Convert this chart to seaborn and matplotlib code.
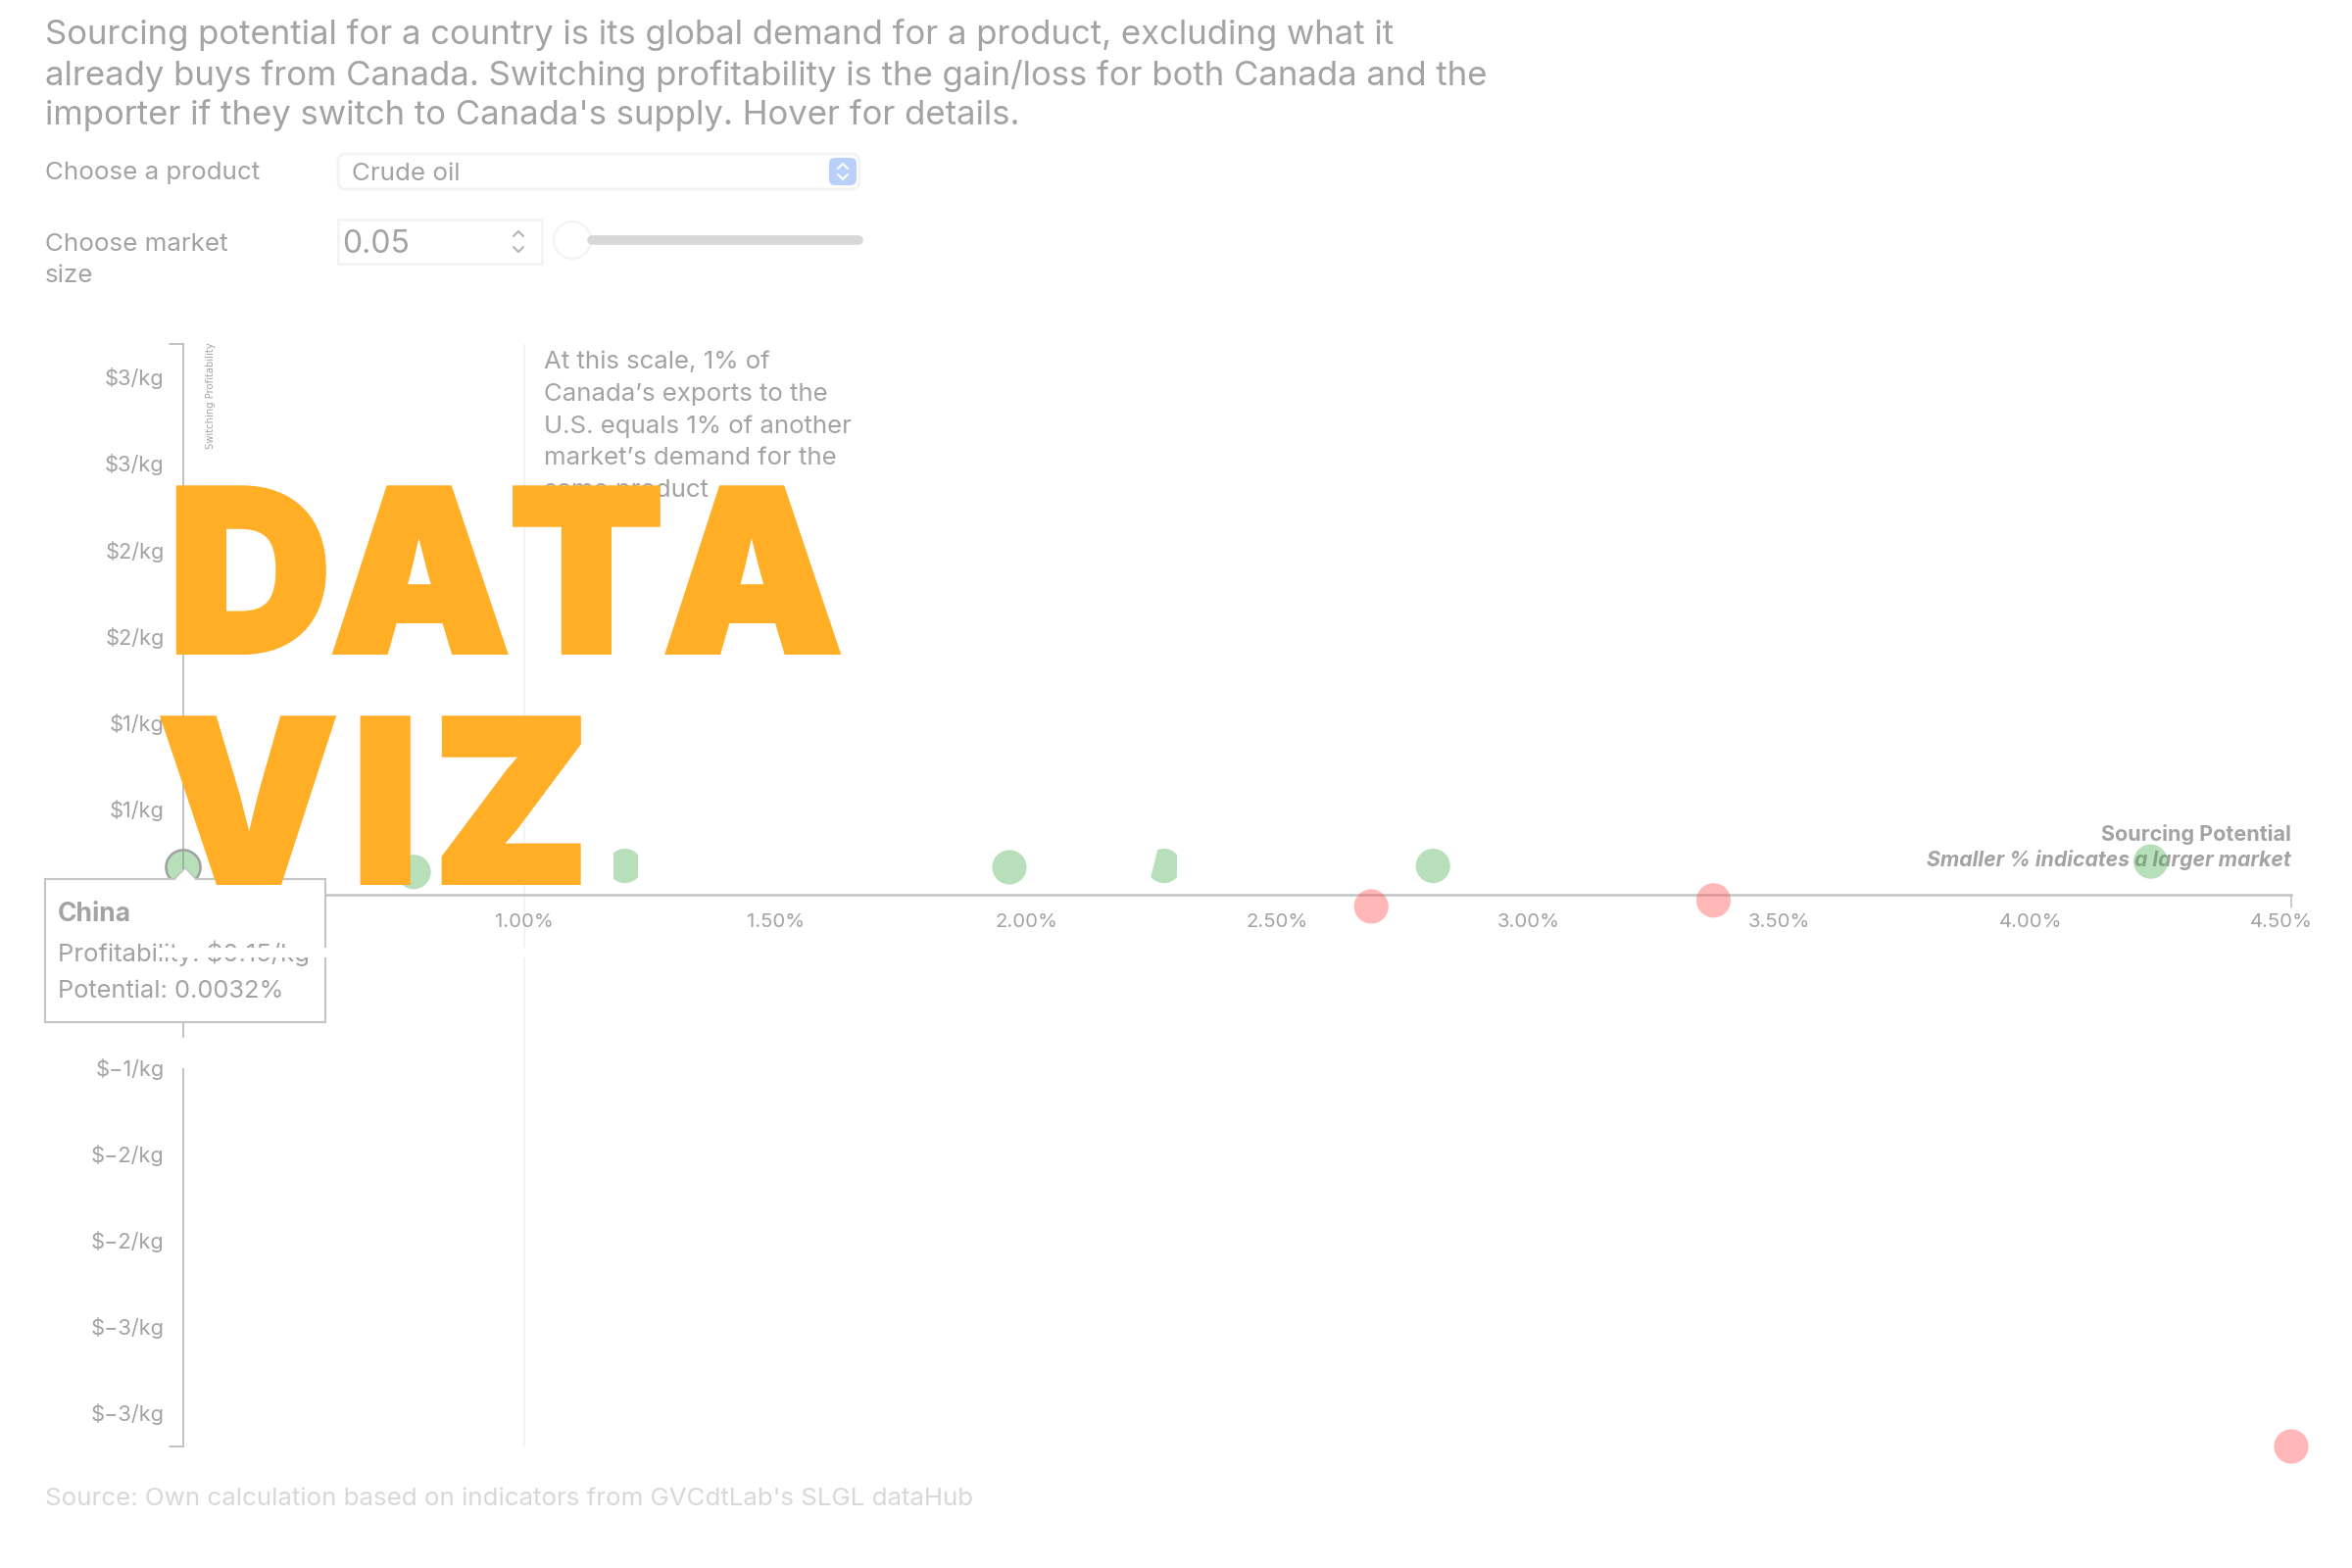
import matplotlib
matplotlib.use('Agg')
import matplotlib.pyplot as plt
import matplotlib.patheffects as pe
import pandas as pd
import seaborn as sns
from matplotlib.patches import Circle, FancyBboxPatch, Polygon, Rectangle

# values
potential = [0.32, 0.779, 1.20, 1.966, 2.274, 2.81, 4.24, 2.687, 3.369, 4.52]
profit = [0.157, 0.13, 0.165, 0.157, 0.165, 0.165, 0.19, -0.07, -0.035, -3.2]
side = ['gain', 'gain', 'gain', 'gain', 'gain', 'gain', 'gain', 'loss', 'loss', 'loss']

x_ticks = [0.5, 1.0, 1.5, 2.0, 2.5, 3.0, 3.5, 4.0, 4.5]
x_labels = ['0.50%', '1.00%', '1.50%', '2.00%', '2.50%', '3.00%', '3.50%', '4.00%', '4.50%']
y_ticks = [3, 2.5, 2, 1.5, 1, 0.5, -0.5, -1, -1.5, -2, -2.5, -3]
y_labels = ['$3/kg', '$3/kg', '$2/kg', '$2/kg', '$1/kg', '$1/kg', '$-1/kg', '$-1/kg',
            '$-2/kg', '$-2/kg', '$-3/kg', '$-3/kg']
y_labels = [s.replace('-', '\u2212') for s in y_labels]

intro = ["Sourcing potential for a country is its global demand for a product, excluding what it",
         "already buys from Canada. Switching profitability is the gain/loss for both Canada and the",
         "importer if they switch to Canada's supply. Hover for details."]
note = ["At this scale, 1% of", "Canada\u2019s exports to the", "U.S. equals 1% of another",
        "market\u2019s demand for the", "same product"]

df = pd.DataFrame({'potential': potential, 'profit': profit, 'side': side})

GRAY = '#a3a3a3'
LINE = '#c4c4c4'
ORANGE = '#ffae26'

sns.set_theme(style='white')
plt.rcParams['font.family'] = ['Inter', 'DejaVu Sans']

fig = plt.figure(figsize=(24, 16), dpi=100, facecolor='white')

# plot area in pixels: left 187, right 2338, top 351, bottom 1476
ax = fig.add_axes([187 / 2400, 1 - 1476 / 1600, (2338 - 187) / 2400, (1476 - 351) / 1600])
ax.axvline(1.0, color='#f3f3f3', lw=1.5, zorder=0)
ax.text(4.52, 0.35, 'Sourcing Potential', ha='right', va='center', fontsize=15.5,
        fontweight='bold', color=GRAY, zorder=1)
ax.text(4.52, 0.2, 'Smaller % indicates a larger market', ha='right', va='center', fontsize=15.3,
        fontweight='bold', fontstyle='italic', color=GRAY, zorder=1)
sns.scatterplot(data=df, x='potential', y='profit', hue='side', ax=ax, s=640, alpha=0.4, linewidth=0,
                palette={'gain': '#4caf50', 'loss': '#ff4d4d'}, legend=False, clip_on=False, zorder=3)
ax.scatter(potential[:1], profit[:1], s=640, facecolor='none', edgecolor='#a0a0a0', linewidth=1.8,
           clip_on=False, zorder=4)

ax.set_xlim(0.32, 4.52)
ax.set_ylim(-3.2, 3.19)
ax.set_xlabel('')
ax.set_ylabel('')
ax.set_xticks(x_ticks, x_labels)
ax.set_yticks(y_ticks, y_labels)
ax.tick_params(axis='x', length=0, pad=14, labelsize=14.6, labelcolor=GRAY)
ax.tick_params(axis='y', length=0, pad=14, labelsize=15.7, labelcolor=GRAY)
ax.patch.set_alpha(0)
for s in ['top', 'right']:
    ax.spines[s].set_visible(False)
ax.spines['left'].set_color('#b8b8b8')
ax.spines['left'].set_linewidth(1.2)
ax.spines['bottom'].set_position(('data', 0))
ax.spines['bottom'].set_color(LINE)
ax.spines['bottom'].set_linewidth(1.8)

# everything else sits on a full figure layer in pixels
ov = fig.add_axes([0, 0, 1, 1], zorder=5)
ov.set_xlim(0, 2400)
ov.set_ylim(1600, 0)
ov.axis('off')

for y, line in zip([36, 77, 118], intro):
    ov.text(46, y, line, fontsize=25, color=GRAY, va='center')

ov.text(46, 177, 'Choose a product', fontsize=18.7, color=GRAY, va='center')
ov.text(46, 249, 'Choose market', fontsize=18.7, color=GRAY, va='center')
ov.text(46, 281, 'size', fontsize=18.7, color=GRAY, va='center')

# select box
ov.add_patch(FancyBboxPatch((345, 157), 532, 36, boxstyle='round,pad=0,rounding_size=8',
                            fc='white', ec='#f3f3f3', lw=2))
ov.text(359, 177, 'Crude oil', fontsize=18.7, color=GRAY, va='center')
ov.add_patch(FancyBboxPatch((846, 161), 28, 28, boxstyle='round,pad=0,rounding_size=6',
                            fc='#b9d0fb', ec='none'))
ov.plot([855, 860, 865], [172, 167, 172], color='white', lw=1.5)
ov.plot([855, 860, 865], [178, 183, 178], color='white', lw=1.5)

# number input and slider
ov.add_patch(Rectangle((345, 224), 208, 45, fc='white', ec='#f3f3f3', lw=2))
ov.text(349, 249, '0.05', fontsize=23, color=GRAY, va='center')
ov.plot([524, 529, 534], [241, 236, 241], color='#b5b5b5', lw=1.5)
ov.plot([524, 529, 534], [252, 257, 252], color='#b5b5b5', lw=1.5)
ov.plot([604, 876], [245, 245], color='#d8d8d8', lw=7, solid_capstyle='round')
ov.add_patch(Circle((584, 245), 19, fc='white', ec='#f3f3f3', lw=1.5))

# axis caps and the y title
ov.plot([173, 187], [351, 351], color='#b8b8b8', lw=1.2)
ov.plot([173, 187], [1476, 1476], color='#b8b8b8', lw=1.2)
ov.plot([2338, 2338], [913, 926], color=LINE, lw=1.2)
ov.text(215, 349, 'Switching Profitability', rotation=90, fontsize=7.2, color=GRAY,
        ha='center', va='top', family=['DejaVu Sans'])

for y, line in zip([370, 403, 435, 468, 500], note):
    ov.text(555, y, line, fontsize=18.6, color=GRAY, va='center')

# tooltip
ov.add_patch(Rectangle((46, 897), 286, 146, fc='white', ec=LINE, lw=1.5, zorder=3))
ov.add_patch(Polygon([[178, 898.5], [189, 886], [200, 898.5]], closed=True, fc='white', ec='none', zorder=4))
ov.plot([178, 189, 200], [897, 886, 897], color=LINE, lw=1, zorder=4)
ov.text(59, 933, 'China', fontsize=19, fontweight='bold', color=GRAY, va='center', zorder=5)
ov.text(59, 973, 'Profitability: $0.15/kg', fontsize=18.5, color=GRAY, va='center', zorder=5)
ov.text(59, 1011, 'Potential: 0.0032%', fontsize=18.3, color=GRAY, va='center', zorder=5)

# white leftovers in the original picture
ov.add_patch(Rectangle((160, 967), 380, 10, fc='white', ec='none', zorder=6))
ov.add_patch(Rectangle((180, 1059), 14, 31, fc='white', ec='none', zorder=6))
ov.add_patch(Rectangle((610, 860), 16, 40, fc='white', ec='none', zorder=6))
ov.add_patch(Rectangle((651, 860), 12, 40, fc='white', ec='none', zorder=6))
ov.add_patch(Polygon([[1183, 860], [1173, 900], [1162, 900], [1162, 860]], closed=True, fc='white', ec='none', zorder=6))
ov.add_patch(Rectangle((1201, 860), 12, 40, fc='white', ec='none', zorder=6))

ov.text(46, 1529, "Source: Own calculation based on indicators from GVCdtLab's SLGL dataHub",
        fontsize=18.65, color='#d8d8d8', va='center')

# the big stamp over the chart
thick = [pe.withStroke(linewidth=4.3, foreground=ORANGE, joinstyle='miter')]
ov.text(172, 665, 'DATA', fontsize=165, fontweight='black', color=ORANGE, va='baseline', zorder=8,
        path_effects=thick)
ov.text(162, 900, 'V\u200aI\u200aZ', fontsize=165, fontweight='black', color=ORANGE, va='baseline', zorder=8,
        path_effects=thick)

plt.savefig('out.png', dpi=100)
